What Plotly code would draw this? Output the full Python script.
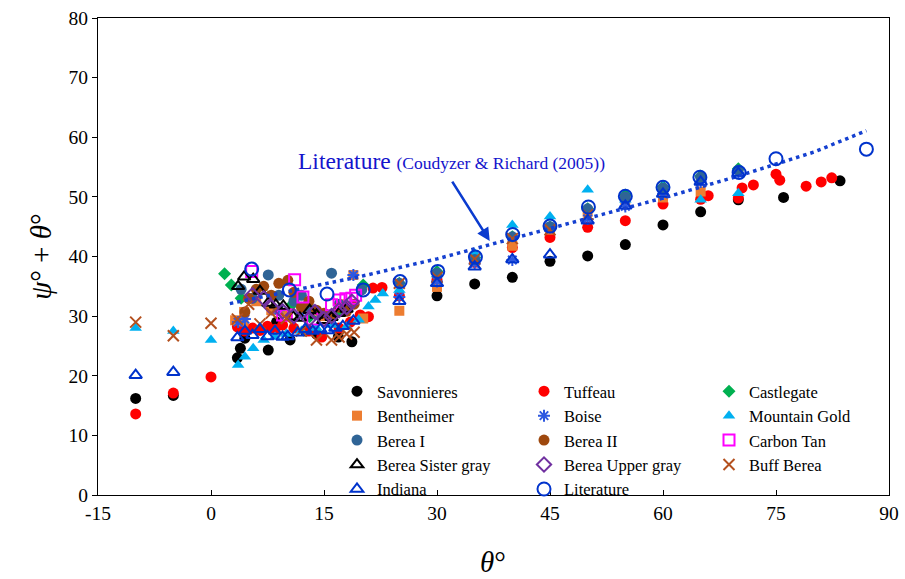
import plotly.graph_objects as go

# ---------------- data ----------------
sav_x = [-10, -5, 3.5, 3.9, 4.5, 7.6, 8.7, 10.5, 12.5, 14, 16.9, 18.7, 30, 35, 40, 45, 50, 55, 60, 65, 70, 76, 83.5]
sav_y = [16.2, 16.7, 23.0, 24.6, 26.3, 24.3, 29.0, 26.0, 27.5, 27.0, 26.5, 25.7, 33.4, 35.4, 36.5, 39.2, 40.1, 42.0, 45.3, 47.5, 49.5, 49.9, 52.7]

tuf_x = [-10, -5, 0, 3.5, 4.5, 5.5, 6.5, 7.5, 8.5, 9.5, 11, 13, 14.7, 17, 18.5, 19.8, 20.9, 21.5, 22.7, 25, 30, 35, 40, 45, 50, 55, 60, 65, 66, 70, 70.5, 72, 75, 75.5, 79, 81, 82.4]
tuf_y = [13.6, 17.1, 19.8, 28.2, 27.5, 28.0, 27.6, 28.3, 27.8, 28.5, 28.0, 27.5, 26.5, 28.0, 29.0, 30.2, 29.9, 34.7, 34.8, 33.4, 36.1, 39.0, 41.5, 43.2, 44.9, 46.0, 48.8, 49.6, 50.2, 49.8, 51.5, 52.0, 53.8, 52.8, 51.8, 52.5, 53.2]

cas_x = [1.8, 2.7, 4, 10.8, 13.1, 17, 20.2, 25, 30, 35, 40, 45, 50, 55, 60, 65, 70]
cas_y = [37.1, 35.2, 33.0, 32.0, 29.9, 31.0, 35.2, 35.5, 37.5, 39.8, 43.3, 45.0, 48.0, 50.3, 51.7, 53.5, 54.7]

ben_x = [3.2, 4.4, 4.3, 6, 8, 10, 12.5, 15, 17.5, 18.9, 20.2, 25, 30, 35, 40, 45, 50, 55, 60, 65]
ben_y = [29.3, 30.7, 29.1, 32.5, 31.0, 30.5, 31.5, 30.0, 32.0, 36.9, 29.6, 30.9, 34.9, 39.3, 41.8, 44.5, 47.5, 49.5, 49.9, 50.9]

boi_x = [3.6, 4.5, 9, 12, 16, 18.9, 25, 30, 35, 40, 45, 50, 55, 60, 65, 70]
boi_y = [29.0, 29.5, 31.0, 30.5, 29.8, 36.9, 33.2, 35.8, 38.8, 39.4, 44.9, 46.3, 48.4, 50.5, 52.5, 54.0]

mg_x = [-10, -5, 0, 3.6, 4.5, 5.6, 7, 8.5, 10, 12, 14, 16, 18, 19.6, 20.9, 21.8, 22.8, 25, 30, 35, 40, 45, 50, 55, 60, 65, 70]
mg_y = [28.0, 27.5, 26.0, 21.8, 23.2, 24.6, 26.0, 26.5, 27.0, 27.5, 28.0, 28.5, 28.2, 29.4, 31.6, 32.7, 33.8, 34.4, 37.0, 40.5, 45.3, 46.7, 51.2, 49.5, 51.7, 49.5, 50.6]

b1_x = [4, 5.5, 7.6, 9, 11, 12, 13, 16, 17, 20, 25, 30, 35, 40, 45, 50, 55, 60, 65, 70]
b1_y = [34.5, 33.0, 36.9, 33.5, 32.5, 33.5, 31.5, 37.2, 32.0, 34.4, 35.5, 37.2, 39.5, 43.3, 45.0, 48.0, 50.0, 51.5, 53.3, 54.5]

b2_x = [4.5, 5, 6, 7, 8, 9, 10.2, 11, 12, 13, 14, 15, 16, 17, 18, 19]
b2_y = [30.7, 33.0, 34.5, 35.0, 33.5, 35.5, 36.0, 34.0, 31.5, 32.5, 31.0, 30.5, 30.0, 31.5, 30.8, 32.0]

ct_x = [5.4, 9.5, 10, 11.1, 12.2, 13.5, 16, 17, 17.9, 18.7, 19.2]
ct_y = [37.5, 30.2, 30.2, 36.1, 33.2, 29.5, 31.9, 32.7, 32.9, 33.0, 33.5]

bsg_x = [3.6, 4.4, 5.6, 6.5, 7.6, 8.6, 9.6, 10.9, 11.8, 13.1, 14.0, 14.9, 16, 17, 18]
bsg_y = [35.0, 36.6, 36.2, 34.2, 32.2, 31.9, 31.7, 29.9, 29.7, 31.0, 30.2, 29.3, 29.8, 30.5, 31.2]

bug_x = [5.5, 7, 8, 9.5, 11, 13, 13.8, 15, 16, 17, 18, 18.7]
bug_y = [33.5, 33.0, 31.5, 30.8, 30.0, 29.5, 30.7, 29.5, 30.0, 31.0, 31.5, 32.4]

bb_x = [-10, -5, 0, 3.5, 5, 6.5, 8, 10, 12, 14, 16, 17, 18, 19, 25, 30, 35, 40, 45, 50]
bb_y = [29.0, 26.7, 28.8, 29.5, 32.0, 28.7, 30.5, 29.6, 27.5, 26.0, 26.0, 26.5, 27.0, 27.3, 35.5, 36.5, 39.6, 43.0, 44.5, 47.0]

ind_x = [-10, -5, 3.5, 4.5, 5.5, 6.5, 7.5, 8.5, 9.5, 10.2, 11.5, 12.5, 13.5, 14.5, 15.5, 16.5, 17.5, 18.9, 25, 30, 35, 40, 45, 50, 55, 60, 65, 70]
ind_y = [20.1, 20.6, 26.4, 27.5, 26.8, 27.8, 26.6, 27.5, 26.5, 26.6, 27.2, 27.8, 27.5, 27.8, 27.6, 28.0, 28.3, 29.2, 32.5, 35.5, 38.3, 39.5, 40.3, 46.0, 48.5, 50.5, 52.5, 54.0]

lit_x = [5.4, 10.4, 15.4, 20.2, 25.1, 30.1, 35.1, 40.05, 45, 50.1, 55, 60, 64.9, 70.1, 75, 87]
lit_y = [37.9, 34.4, 33.7, 34.4, 35.8, 37.5, 39.9, 43.7, 45.1, 48.3, 50.1, 51.6, 53.3, 54.1, 56.4, 58.0]

fit_x = [2.5, 10, 20, 30, 40, 50, 60, 70, 80, 87]
fit_y = [32.1, 34.1, 36.7, 39.6, 43.0, 46.5, 49.8, 53.5, 57.5, 61.1]

x_ticks = [-15, 0, 15, 30, 45, 60, 75, 90]
x_tick_text = ["-15", "0", "15", "30", "45", "60", "75", "90"]

# (name, x, y, symbol, colour, size, open?, legend column)
series = [
    ("Savonnieres", sav_x, sav_y, "circle", "#000000", 11, False, "legend"),
    ("Tuffeau", tuf_x, tuf_y, "circle", "#FF0000", 11, False, "legend2"),
    ("Castlegate", cas_x, cas_y, "diamond", "#00B050", 10, False, "legend3"),
    ("Bentheimer", ben_x, ben_y, "square", "#ED7D31", 10, False, "legend"),
    ("Boise", boi_x, boi_y, "asterisk-open", "#2E58E0", 10, True, "legend2"),
    ("Mountain Gold", mg_x, mg_y, "triangle-up", "#00B0F0", 11, False, "legend3"),
    ("Berea I", b1_x, b1_y, "circle", "#2F6496", 11, False, "legend"),
    ("Berea II", b2_x, b2_y, "circle", "#9E480E", 11, False, "legend2"),
    ("Carbon Tan", ct_x, ct_y, "square-open", "#FF00FF", 11, True, "legend3"),
    ("Berea Sister gray", bsg_x, bsg_y, "triangle-up-open", "#000000", 11, True, "legend"),
    ("Berea Upper gray", bug_x, bug_y, "diamond-open", "#7030A0", 11, True, "legend2"),
    ("Buff Berea", bb_x, bb_y, "x-thin-open", "#B4501E", 11, True, "legend3"),
    ("Indiana", ind_x, ind_y, "triangle-up-open", "#0033CC", 11, True, "legend"),
]

fig = go.Figure()
for name, xs, ys, sym, col, sz, is_open, lg in series:
    fig.add_trace(go.Scatter(
        x=xs, y=ys, mode="markers", name=name, legend=lg,
        marker=dict(symbol=sym, size=sz, color=col,
                    line=dict(width=2 if is_open else 0, color=col)),
    ))

fig.add_trace(go.Scatter(
    x=fit_x, y=fit_y, mode="lines", showlegend=False, hoverinfo="skip",
    line=dict(color="#1540D0", width=3.5, dash="3.5px,4px"),
))
fig.add_trace(go.Scatter(
    x=lit_x, y=lit_y, mode="markers", name="Literature", legend="legend2",
    marker=dict(symbol="circle-open", size=13, color="#0033CC",
                line=dict(width=2, color="#0033CC")),
))

serif = "Liberation Serif"
leg_font = dict(family=serif, size=16.5, color="black")
leg_common = dict(orientation="v", yanchor="top", xanchor="left", y=0.2537,
                  font=leg_font, bgcolor="rgba(0,0,0,0)", borderwidth=0,
                  tracegroupgap=0, itemwidth=30)


def px_to_paper_x(px):
    return (px - 98) / 791.0


fig.update_layout(
    width=905, height=579,
    margin=dict(l=98, r=16, t=18, b=84, autoexpand=False),
    paper_bgcolor="white", plot_bgcolor="white",
    font=dict(family=serif, size=19, color="black"),
    showlegend=True,
    legend=dict(x=px_to_paper_x(337), **leg_common),
    legend2=dict(x=px_to_paper_x(524), **leg_common),
    legend3=dict(x=px_to_paper_x(709), **leg_common),
    xaxis=dict(
        range=[-15, 90], tickvals=x_ticks, ticktext=x_tick_text,
        showgrid=False, zeroline=False,
        showline=True, linecolor="black", linewidth=1.3, mirror=True,
        ticks="inside", ticklen=5, tickcolor="black",
        tickfont=dict(family=serif, size=19.5),
    ),
    yaxis=dict(
        range=[0, 80], dtick=10, showgrid=False, zeroline=False,
        showline=True, linecolor="black", linewidth=1.3, mirror=True,
        ticks="outside", ticklen=5, tickcolor="black",
        tickfont=dict(family=serif, size=19.5),
    ),
    annotations=[
        dict(xref="paper", yref="paper", x=-0.073, y=0.5, xanchor="center", yanchor="middle",
             text="<i>ψ</i>° + <i>θ</i>°", textangle=-90, showarrow=False,
             font=dict(family=serif, size=29, color="black")),
        dict(xref="paper", yref="paper", x=0.499, y=-0.14, xanchor="center", yanchor="middle",
             text="<i>θ</i>°", showarrow=False,
             font=dict(family=serif, size=29, color="black")),
        dict(xref="paper", yref="paper", x=0.2503, y=0.700, xanchor="left", yanchor="middle",
             text='<span style="font-size:23.5px">Literature</span> <span style="font-size:17.5px">(Coudyzer &amp; Richard (2005))</span>',
             showarrow=False, font=dict(family=serif, size=23.5, color="#1414CC")),
        dict(xref="x", yref="y", x=37.0, y=42.6, ax=31.9, ay=52.8, axref="x", ayref="y",
             text="", showarrow=True, arrowhead=2, arrowsize=1, arrowwidth=2.6,
             arrowcolor="#0B3BCF"),
    ],
)

fig.write_html("out.html")
